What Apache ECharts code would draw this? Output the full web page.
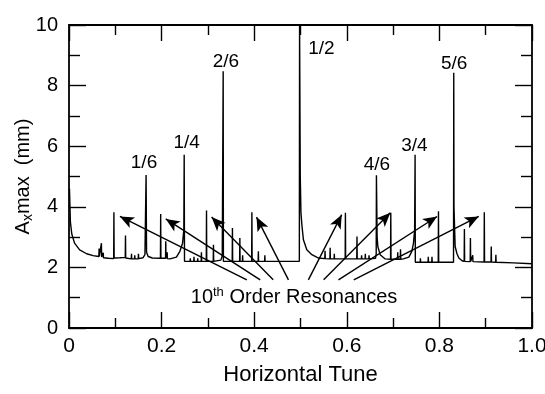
<!DOCTYPE html>
<html>
<head>
<meta charset="utf-8">
<script src="https://cdn.jsdelivr.net/npm/echarts@6/dist/echarts.min.js"></script>
<style>
  html, body { margin: 0; padding: 0; background: #fff; }
  #chart { width: 545px; height: 394px; }
</style>
</head>
<body>
<div id="chart"></div>
<script>
// horizontal tune vs max amplitude
var tune = [
  0.001, 0.003, 0.006, 0.012, 0.023, 0.038, 0.052, 0.0645, 0.065, 0.0655,
  0.0695, 0.070, 0.0705, 0.0735, 0.074, 0.0745, 0.085, 0.0965, 0.097, 0.0975,
  0.110, 0.1215, 0.122, 0.1225, 0.1345, 0.135, 0.1355, 0.1415, 0.142, 0.1425,
  0.1495, 0.150, 0.1505, 0.160, 0.164, 0.1665, 0.1675, 0.171, 0.180, 0.1975,
  0.198, 0.1985, 0.2085, 0.209, 0.2095, 0.2115, 0.212, 0.2125, 0.218, 0.232,
  0.2395, 0.2453, 0.248, 0.2488, 0.2495, 0.2615, 0.262, 0.2625, 0.2695, 0.270,
  0.2705, 0.2775, 0.278, 0.2785, 0.2855, 0.286, 0.2865, 0.2965, 0.297, 0.2975,
  0.3115, 0.312, 0.3125, 0.328, 0.331, 0.333, 0.3335, 0.3525, 0.353, 0.3535,
  0.3685, 0.369, 0.3695, 0.3745, 0.375, 0.3755, 0.3945, 0.395, 0.3955, 0.4085,
  0.409, 0.4095, 0.4225, 0.423, 0.4235, 0.4975, 0.498, 0.4995, 0.501, 0.503,
  0.5063, 0.5136, 0.5245, 0.539, 0.5525, 0.553, 0.5535, 0.5635, 0.564, 0.5645,
  0.5725, 0.573, 0.5735, 0.5965, 0.597, 0.5975, 0.6215, 0.622, 0.6225, 0.6315,
  0.632, 0.6325, 0.6395, 0.640, 0.6405, 0.6475, 0.648, 0.6485, 0.662, 0.6635,
  0.664, 0.6655, 0.667, 0.672, 0.683, 0.6945, 0.695, 0.6955, 0.7095, 0.710,
  0.7105, 0.7155, 0.716, 0.7165, 0.722, 0.734, 0.7405, 0.744, 0.7465, 0.7475,
  0.748, 0.7585, 0.759, 0.7595, 0.7755, 0.776, 0.7765, 0.7835, 0.784, 0.7845,
  0.7975, 0.798, 0.7985, 0.8305, 0.831, 0.8315, 0.834, 0.838, 0.842, 0.849,
  0.8535, 0.854, 0.8545, 0.8665, 0.867, 0.8675, 0.8715, 0.872, 0.8725, 0.8965,
  0.897, 0.8975, 0.9115, 0.912, 0.9125, 0.9215, 0.922, 0.9225, 0.960, 1.000
];
var amp = [
  4.6, 3.5, 3.1, 2.8, 2.58, 2.45, 2.39, 2.36, 2.62, 2.36,
  2.35, 2.80, 2.34, 2.33, 2.48, 2.32, 2.30, 2.29, 3.82, 2.31,
  2.32, 2.33, 3.05, 2.31, 2.28, 2.45, 2.28, 2.28, 2.40, 2.28,
  2.28, 2.45, 2.29, 2.32, 2.42, 5.05, 2.50, 2.36, 2.31, 2.30,
  3.76, 2.30, 2.30, 2.86, 2.30, 2.30, 2.50, 2.29, 2.28, 2.34,
  2.53, 2.80, 3.24, 5.72, 2.20, 2.20, 2.30, 2.20, 2.20, 2.35,
  2.20, 2.20, 2.30, 2.20, 2.20, 2.50, 2.20, 2.20, 3.88, 2.20,
  2.20, 2.75, 2.20, 2.24, 2.38, 8.47, 2.20, 2.20, 3.30, 2.20,
  2.20, 2.97, 2.20, 2.20, 2.40, 2.20, 2.20, 3.82, 2.20, 2.20,
  2.53, 2.20, 2.20, 2.40, 2.20, 2.20, 10, 5.0, 3.8, 3.4,
  2.91, 2.58, 2.42, 2.31, 2.29, 2.55, 2.29, 2.28, 2.65, 2.28,
  2.28, 2.45, 2.28, 2.28, 3.80, 2.28, 2.28, 3.02, 2.28, 2.28,
  2.40, 2.28, 2.28, 2.45, 2.28, 2.28, 2.40, 2.28, 2.30, 2.45,
  5.04, 3.00, 2.69, 2.42, 2.28, 2.27, 3.80, 2.27, 2.27, 2.50,
  2.27, 2.27, 2.60, 2.27, 2.28, 2.34, 2.53, 2.80, 3.24, 5.72,
  2.17, 2.17, 2.30, 2.17, 2.17, 2.35, 2.17, 2.17, 2.35, 2.17,
  2.17, 3.85, 2.17, 2.17, 8.42, 4.00, 2.69, 2.45, 2.31, 2.22,
  2.20, 3.27, 2.20, 2.19, 2.97, 2.19, 2.19, 2.40, 2.19, 2.18,
  3.82, 2.18, 2.18, 2.69, 2.18, 2.17, 2.42, 2.17, 2.15, 2.12
];

var xTickLabels = ['0', '0.2', '0.4', '0.6', '0.8', '1.0'];

// resonance labels (text centre, data coords)
var resText = ['1/6', '1/4', '2/6', '1/2', '4/6', '3/4', '5/6'];
var resX = [0.162, 0.254, 0.339, 0.545, 0.665, 0.746, 0.832];
var resY = [5.45, 6.11, 8.80, 9.22, 5.39, 6.03, 8.71];

// "10th Order Resonances" note and its arrows
var noteX = 0.486, noteY = 1.03;
var arrowTail = [[0.384, 1.59], [0.413, 1.59], [0.441, 1.59], [0.474, 1.59],
                 [0.517, 1.59], [0.550, 1.59], [0.582, 1.59], [0.615, 1.59]];
var arrowHead = [[0.110, 3.68], [0.209, 3.60], [0.308, 3.66], [0.405, 3.66],
                 [0.589, 3.74], [0.694, 3.80], [0.795, 3.68], [0.885, 3.68]];

var FONT = '"Liberation Sans", Arial, Helvetica, sans-serif';
var INK = '#000';

var chart = echarts.init(document.getElementById('chart'), null, { renderer: 'canvas' });

var pts = tune.map(function (t, i) { return [t, amp[i]]; });
var labelPts = resX.map(function (x, i) { return { value: [x, resY[i]], name: resText[i] }; });
labelPts.push({ value: [noteX, noteY], name: 'note' });

var arrows = arrowTail.map(function (a, i) {
  return [{ coord: a }, { coord: arrowHead[i] }];
});

function xAxisDef(pos, showLabel) {
  return {
    type: 'value', position: pos, min: 0, max: 1, interval: 0.2,
    axisLine: { show: true, onZero: false, lineStyle: { color: INK, width: 1.8 } },
    axisTick: { show: true, inside: true, length: 16, lineStyle: { color: INK, width: 1.4 } },
    minorTick: { show: true, splitNumber: 2, length: 10, lineStyle: { color: INK, width: 1.4 } },
    splitLine: { show: false },
    axisLabel: {
      show: showLabel, color: INK, fontSize: 21, fontFamily: FONT, margin: 8,
      formatter: function (v) { return xTickLabels[Math.round(v / 0.2)]; }
    },
    name: showLabel ? 'Horizontal Tune' : '',
    nameLocation: 'middle', nameGap: 36,
    nameTextStyle: { color: INK, fontSize: 22, fontFamily: FONT }
  };
}

function yAxisDef(pos, showLabel) {
  return {
    type: 'value', position: pos, min: 0, max: 10, interval: 2,
    axisLine: { show: true, onZero: false, lineStyle: { color: INK, width: 1.8 } },
    axisTick: { show: true, inside: true, length: 17, lineStyle: { color: INK, width: 1.4 } },
    minorTick: { show: true, splitNumber: 2, length: 11, lineStyle: { color: INK, width: 1.4 } },
    splitLine: { show: false },
    axisLabel: { show: showLabel, color: INK, fontSize: 20, fontFamily: FONT, margin: 11 },
    name: showLabel ? '{n|A}{sub|x}{n|max  (mm)}' : '',
    nameLocation: 'middle', nameGap: 34, nameMoveOverlap: false,
    nameTextStyle: {
      color: INK, fontFamily: FONT,
      rich: {
        n: { fontSize: 20, fontFamily: FONT, color: INK },
        sub: { fontSize: 14, fontFamily: FONT, color: INK, padding: [10, 0, 0, 0] }
      }
    }
  };
}

var option = {
  animation: false,
  backgroundColor: '#fff',
  grid: { left: 69, right: 13, top: 25, bottom: 66, containLabel: false, outerBoundsMode: 'none' },
  xAxis: [xAxisDef('bottom', true), xAxisDef('top', false)],
  yAxis: [yAxisDef('left', true), yAxisDef('right', false)],
  series: [
    {
      type: 'line',
      data: pts,
      showSymbol: false,
      smooth: false,
      clip: true,
      lineStyle: { color: INK, width: 1.4 },
      silent: true
    },
    {
      type: 'scatter',
      data: labelPts,
      symbolSize: 1,
      itemStyle: { color: 'transparent', opacity: 1 },
      silent: true,
      label: {
        show: true,
        position: 'inside',
        color: INK,
        fontSize: 19,
        fontFamily: FONT,
        formatter: function (p) {
          if (p.name === 'note') return '{n|10}{sup|th}{n| Order Resonances}';
          return p.name;
        },
        rich: {
          n: { fontSize: 20, fontFamily: FONT, color: INK, verticalAlign: 'bottom' },
          sup: { fontSize: 13, fontFamily: FONT, color: INK, verticalAlign: 'bottom', padding: [0, 0, 9, 0] }
        }
      },
      markLine: {
        silent: true,
        symbol: ['none', 'arrow'],
        symbolSize: [9, 14],
        label: { show: false },
        lineStyle: { color: INK, width: 1.4, type: 'solid' },
        emphasis: { disabled: true },
        data: arrows
      }
    }
  ]
};

chart.setOption(option);
</script>
</body>
</html>
